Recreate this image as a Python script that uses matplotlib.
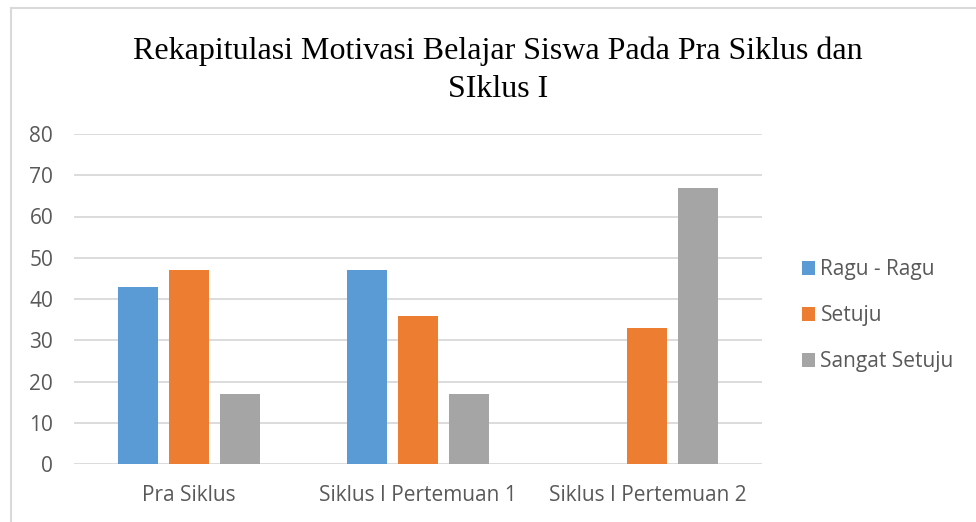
import matplotlib.pyplot as plt
import numpy as np

categories = ['Pra Siklus', 'Siklus I Pertemuan 1', 'Siklus I Pertemuan 2']
ragu = [43, 47, 0]
setuju = [47, 36, 33]
sangat_setuju = [17, 17, 67]
series_names = ['Ragu - Ragu', 'Setuju', 'Sangat Setuju']
colors = ['#5B9BD5', '#ED7D31', '#A5A5A5']

fig = plt.figure(figsize=(9.76, 5.22), dpi=100)
ax = fig.add_axes([74/976, 1-464/522, 688/976, 330/522])

x = np.arange(len(categories))
w = 0.175
step = 0.222
bars = []
for i, (vals, name, c) in enumerate(zip([ragu, setuju, sangat_setuju], series_names, colors)):
    b = ax.bar(x + (i-1)*step, vals, w, color=c, label=name, zorder=3)
    bars.append(b)

ax.set_xlim(-0.5, 2.5)
ax.set_ylim(0, 80)
ax.set_yticks(range(0, 81, 10))
ax.set_xticks(x)
ax.set_xticklabels(categories)
ax.grid(axis='y', color='#D9D9D9', linewidth=1.3, zorder=0)
for s in ax.spines.values():
    s.set_visible(False)
ax.tick_params(length=0, labelsize=15, labelcolor='#595959')
ax.tick_params(axis='y', pad=15)
ax.tick_params(axis='x', pad=15)
for t in ax.get_xticklabels() + ax.get_yticklabels():
    t.set_fontfamily('Open Sans')

fig.text(498/976, 1-70/522, 'Rekapitulasi Motivasi Belajar Siswa Pada Pra Siklus dan\nSIklus I',
         ha='center', va='center', multialignment='center', fontsize=23,
         fontfamily='Liberation Serif', color='black', linespacing=1.42)

leg = fig.legend(handles=bars, labels=series_names, loc='center left',
                 bbox_to_anchor=(783/976, 1-316/522), frameon=False,
                 prop={'family': 'Open Sans', 'size': 15}, labelcolor='#595959',
                 handlelength=0.65, handleheight=0.65, handletextpad=0.25,
                 labelspacing=1.2)

# chart border
fig.add_artist(plt.Line2D([10.5/976, 10.5/976], [0, 1-8/522], color='#D9D9D9', linewidth=1.5))
fig.add_artist(plt.Line2D([10.5/976, 1], [1-8/522, 1-8/522], color='#D9D9D9', linewidth=1.5))

fig.savefig('out.png', dpi=100)
